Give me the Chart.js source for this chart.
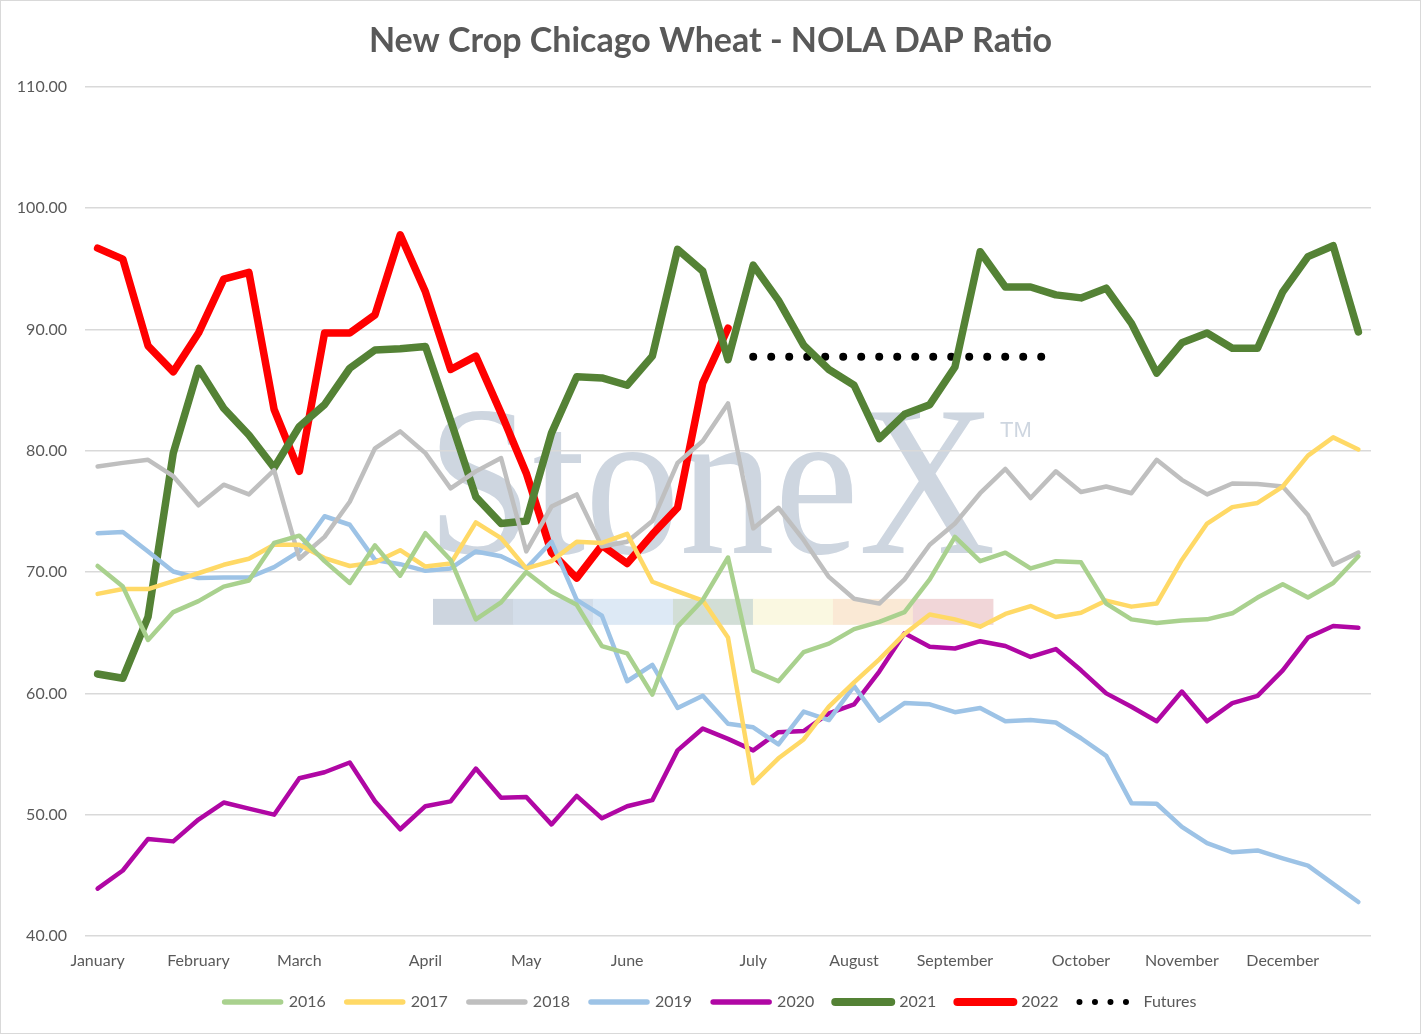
<!DOCTYPE html>
<html>
<head>
<meta charset="utf-8">
<title>New Crop Chicago Wheat - NOLA DAP Ratio</title>
<script src="https://cdn.jsdelivr.net/npm/chart.js@4.4.1/dist/chart.umd.min.js"></script>
<style>
  html, body { margin: 0; padding: 0; background: #ffffff; }
  canvas { display: block; }
</style>
</head>
<body>
<canvas id="lineChart" width="1421" height="1034"></canvas>
<script>
// weekly categories, only the first week of each month carries a label
var weekLabels = [
  'January', '', '', '', 'February', '', '', '', 'March', '', '', '', '',
  'April', '', '', '', 'May', '', '', '', 'June', '', '', '', '',
  'July', '', '', '', 'August', '', '', '', 'September', '', '', '', '',
  'October', '', '', '', 'November', '', '', '', 'December', '', '', ''
];

var yTickValues = [40, 50, 60, 70, 80, 90, 100, 110];

var ratio2016 = [70.5, 68.8, 64.4, 66.7, 67.6, 68.8, 69.3, 72.4, 73.0, 70.9,
  69.1, 72.2, 69.7, 73.2, 71.0, 66.1, 67.5, 70.0, 68.4, 67.3,
  63.9, 63.3, 59.9, 65.5, 67.7, 71.2, 61.9, 61.0, 63.4, 64.1,
  65.3, 65.9, 66.7, 69.4, 72.9, 70.9, 71.6, 70.3, 70.9, 70.8,
  67.4, 66.1, 65.8, 66.0, 66.1, 66.6, 67.9, 69.0, 67.9, 69.1, 71.3];

var ratio2017 = [68.2, 68.6, 68.6, 69.25, 69.9, 70.6, 71.1, 72.25, 72.25, 71.15,
  70.5, 70.8, 71.8, 70.45, 70.7, 74.1, 72.8, 70.3, 70.9, 72.5,
  72.4, 73.15, 69.2, 68.4, 67.65, 64.6, 52.6, 54.65, 56.2, 58.9,
  60.9, 62.8, 64.9, 66.5, 66.1, 65.5, 66.55, 67.2, 66.3, 66.65,
  67.65, 67.15, 67.4, 71.0, 74.0, 75.35, 75.7, 77.05, 79.6, 81.1, 80.1];

var ratio2018 = [78.7, 79.0, 79.25, 77.9, 75.5, 77.2, 76.4, 78.4, 71.1, 72.9,
  75.8, 80.2, 81.6, 79.8, 76.9, 78.3, 79.4, 71.7, 75.4, 76.4,
  72.1, 72.5, 74.2, 79.0, 80.8, 83.9, 73.6, 75.3, 72.65, 69.6,
  67.8, 67.4, 69.4, 72.25, 74.0, 76.5, 78.5, 76.1, 78.3, 76.6,
  77.05, 76.5, 79.25, 77.6, 76.4, 77.3, 77.25, 77.05, 74.7, 70.6, 71.6];

var ratio2019 = [73.2, 73.3, 71.7, 70.05, 69.5, 69.55, 69.55, 70.4, 71.7, 74.6,
  73.9, 71.0, 70.65, 70.1, 70.3, 71.7, 71.3, 70.3, 72.5, 67.7,
  66.4, 61.0, 62.35, 58.8, 59.8, 57.5, 57.2, 55.8, 58.5, 57.8,
  60.6, 57.75, 59.2, 59.1, 58.45, 58.8, 57.7, 57.8, 57.6, 56.3,
  54.85, 50.95, 50.9, 49.0, 47.65, 46.9, 47.05, 46.4, 45.8, 44.3, 42.8];

var ratio2020 = [43.9, 45.4, 48.0, 47.8, 49.6, 51.0, 50.5, 50.0, 53.0, 53.5,
  54.3, 51.1, 48.8, 50.7, 51.1, 53.8, 51.4, 51.45, 49.2, 51.55,
  49.7, 50.7, 51.2, 55.3, 57.1, 56.25, 55.3, 56.8, 56.9, 58.35,
  59.1, 61.8, 64.95, 63.85, 63.7, 64.3, 63.9, 63.0, 63.65, 61.9,
  60.0, 58.9, 57.7, 60.15, 57.7, 59.2, 59.8, 61.9, 64.6, 65.55, 65.4];

var ratio2021 = [61.6, 61.25, 66.3, 79.8, 86.8, 83.5, 81.3, 78.6, 82.0, 83.8,
  86.8, 88.3, 88.4, 88.6, 82.5, 76.2, 74.0, 74.2, 81.45, 86.1,
  86.0, 85.4, 87.8, 96.6, 94.8, 87.5, 95.3, 92.4, 88.7, 86.7,
  85.4, 81.0, 83.0, 83.8, 86.9, 96.4, 93.5, 93.5, 92.85, 92.6,
  93.4, 90.5, 86.4, 88.9, 89.7, 88.45, 88.45, 93.1, 96.0, 96.9, 89.8];

var ratio2022 = [96.7, 95.8, 88.65, 86.5, 89.7, 94.15, 94.7, 83.4, 78.3, 89.7,
  89.7, 91.2, 97.8, 93.1, 86.7, 87.8, 83.1, 78.15, 71.6, 69.5,
  72.2, 70.7, 73.1, 75.3, 85.6, 90.1];

var futures = [null, null, null, null, null, null, null, null, null, null,
  null, null, null, null, null, null, null, null, null, null,
  null, null, null, null, null, null, 87.75, 87.75, 87.75, 87.75,
  87.75, 87.75, 87.75, 87.75, 87.75, 87.75, 87.75, 87.75, 87.75];

function series(label, data, color, width) {
  return {
    label: label,
    data: data,
    borderColor: color,
    backgroundColor: color,
    borderWidth: width,
    borderJoinStyle: 'round',
    borderCapStyle: 'round',
    pointRadius: 0,
    pointHoverRadius: 0,
    tension: 0,
    fill: false
  };
}

var futuresSet = series('Futures', futures, '#000000', 8);
futuresSet.borderDash = [0, 18];

// StoneX logo sitting behind the plot, like the Excel picture fill
var watermark = {
  id: 'watermark',
  beforeDraw: function (chart) {
    var c = chart.ctx, a = chart.chartArea;
    var w = a.right - a.left, h = a.bottom - a.top;
    c.save();
    c.fillStyle = '#ffffff';
    c.fillRect(0, 0, chart.width, chart.height);

    var left = a.left + w * 0.266, right = a.left + w * 0.708;
    var base = a.top + h * 0.549;
    c.font = '214px "Liberation Serif", "DejaVu Serif", serif';
    c.fillStyle = '#ced6e0';
    c.textBaseline = 'alphabetic';
    var tw = c.measureText('StoneX').width;
    c.translate(left, base);
    c.scale((right - left) / tw, 1);
    c.fillText('StoneX', 0, 0);
    c.setTransform(1, 0, 0, 1, 0, 0);

    c.font = '22px "Liberation Sans", sans-serif';
    c.fillText('TM', a.left + w * 0.7115, a.top + h * 0.412);

    var bars = ['#cdd5df', '#d3dde9', '#dde9f5', '#d2ded6', '#faf8e1', '#fae9d5', '#f1d6d8'];
    var bx = a.left + w * 0.2706, bw = w * 0.0622;
    var by = a.top + h * 0.603, bh = h * 0.0306;
    for (var i = 0; i < bars.length; i++) {
      c.fillStyle = bars[i];
      c.fillRect(bx + i * bw, by, bw + 0.5, bh);
    }
    c.restore();
  },
  afterDraw: function (chart) {
    var c = chart.ctx;
    c.save();
    c.strokeStyle = '#d9d9d9';
    c.lineWidth = 1;
    c.strokeRect(0.5, 0.5, chart.width - 1, chart.height - 1);
    c.restore();
  }
};

var ctx = document.getElementById('lineChart');

var myChart = new Chart(ctx, {
  type: 'line',
  data: {
    labels: weekLabels,
    datasets: [
      series('2016', ratio2016, '#a9d18e', 4.5),
      series('2017', ratio2017, '#ffd966', 4.5),
      series('2018', ratio2018, '#bfbfbf', 4.5),
      series('2019', ratio2019, '#9dc3e6', 4.5),
      series('2020', ratio2020, '#b007a4', 4.5),
      series('2021', ratio2021, '#548235', 7.5),
      series('2022', ratio2022, '#ff0000', 7.5),
      futuresSet
    ]
  },
  plugins: [watermark],
  options: {
    responsive: false,
    animation: false,
    devicePixelRatio: 1,
    layout: { padding: { left: 15, right: 15, top: 4, bottom: 14 } },
    scales: {
      x: {
        type: 'category',
        offset: true,
        grid: { display: false, drawTicks: false },
        border: { display: false },
        afterFit: function (scale) { scale.height = 37; },
        ticks: {
          autoSkip: false,
          maxRotation: 0,
          padding: 15,
          color: '#595959',
          font: { family: 'Lato', size: 16 }
        }
      },
      y: {
        min: 40,
        max: 110,
        afterBuildTicks: function (scale) {
          scale.ticks = yTickValues.map(function (v) { return { value: v }; });
        },
        afterFit: function (scale) { scale.width = 70; },
        grid: { color: '#d9d9d9', lineWidth: 1.5, drawTicks: false },
        border: { display: false },
        ticks: {
          padding: 18,
          color: '#595959',
          font: { family: 'Lato', size: 16 },
          callback: function (v) { return Number(v).toFixed(2); }
        }
      },
      // empty right-hand gutter so title and legend centre on the page
      gutter: {
        position: 'right',
        min: 40,
        max: 110,
        afterFit: function (scale) { scale.width = 35; },
        grid: { display: false, drawTicks: false },
        border: { display: false },
        ticks: { display: false }
      }
    },
    plugins: {
      title: {
        display: true,
        text: 'New Crop Chicago Wheat - NOLA DAP Ratio',
        color: '#595959',
        font: { family: 'Lato', size: 34, weight: 'bold' },
        padding: { top: 17, bottom: 25 }
      },
      legend: {
        position: 'bottom',
        labels: {
          usePointStyle: true,
          pointStyle: 'line',
          pointStyleWidth: 56,
          padding: 21,
          color: '#595959',
          font: { family: 'Lato', size: 16 },
          generateLabels: function (chart) {
            var items = Chart.defaults.plugins.legend.labels.generateLabels(chart);
            items.forEach(function (it) {
              var ds = chart.data.datasets[it.datasetIndex];
              it.lineCap = 'round';
              if (it.text === 'Futures') {
                it.lineWidth = 6;
                it.lineDash = [0, 15.5];
              } else {
                it.lineWidth = ds.borderWidth > 6 ? 8 : 5.5;
                it.lineDash = [];
              }
            });
            return items;
          }
        }
      },
      tooltip: { enabled: false }
    }
  }
});
</script>
</body>
</html>
